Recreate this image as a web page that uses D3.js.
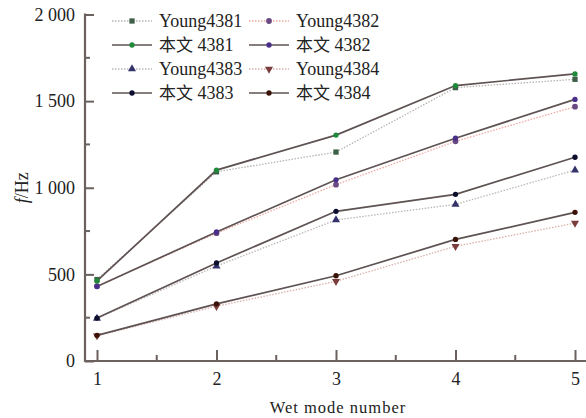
<!DOCTYPE html>
<html>
<head>
<meta charset="utf-8">
<script src="https://cdn.jsdelivr.net/npm/d3@7"></script>
<style>
  body { margin: 0; background: #fff; }
</style>
</head>
<body>
<script>
// mode numbers on the x axis
let modes = [1, 2, 3, 4, 5];
let yTicks = [0, 500, 1000, 1500, 2000];
let yTickLabels = ["0", "500", "1 000", "1 500", "2 000"];

// frequencies (Hz)
let young4381 = [470, 1092, 1206, 1578, 1626];
let paper4381 = [462, 1102, 1304, 1590, 1657];
let young4382 = [432, 738, 1018, 1268, 1468];
let paper4382 = [430, 745, 1046, 1286, 1510];
let young4383 = [246, 548, 814, 904, 1102];
let paper4383 = [248, 566, 864, 962, 1176];
let young4384 = [146, 316, 460, 662, 796];
let paper4384 = [148, 330, 492, 702, 858];

let series = [
  { prefix: "Young", num: "4381", values: young4381, solid: false, line: "#b9b3b3", marker: "square", color: "#3f5f4a" },
  { prefix: "Young", num: "4382", values: young4382, solid: false, line: "#f0a8a0", marker: "circle", color: "#6a4a82" },
  { prefix: "本文", num: "4381", values: paper4381, solid: true, line: "#5e5252", marker: "circle", color: "#1f8a3a" },
  { prefix: "本文", num: "4382", values: paper4382, solid: true, line: "#5e5252", marker: "circle", color: "#4a2f8a" },
  { prefix: "Young", num: "4383", values: young4383, solid: false, line: "#bdb6b6", marker: "triangle", color: "#33336a" },
  { prefix: "Young", num: "4384", values: young4384, solid: false, line: "#d8b0aa", marker: "triangleDown", color: "#7a3c3c" },
  { prefix: "本文", num: "4383", values: paper4383, solid: true, line: "#5e5252", marker: "circle", color: "#0d0d2e" },
  { prefix: "本文", num: "4384", values: paper4384, solid: true, line: "#5e5252", marker: "circle", color: "#3a1208" }
];

let svgWidth = 586, svgHeight = 418;
let axisColor = "#6b615e";
let serif = "'Liberation Serif', 'DejaVu Serif', serif";
let cjk = "'Noto Sans CJK SC', sans-serif";

let svg = d3.select("body").append("svg")
  .attr("width", svgWidth)
  .attr("height", svgHeight);

let x = d3.scaleLinear().domain([1, 5]).range([97, 575]);
let y = d3.scaleLinear().domain([0, 2000]).range([361, 14.5]);
let x0 = 85; // where the y axis sits

// y axis : major + minor ticks pointing inward
let yAxis = svg.append("g").attr("transform", "translate(" + x0 + ",0)")
  .call(d3.axisLeft(y).tickValues(yTicks).tickSize(-9).tickSizeOuter(0)
    .tickFormat((d, i) => yTickLabels[i]).tickPadding(10));
yAxis.attr("font-family", serif).attr("font-size", 18);
yAxis.select(".domain").remove();
yAxis.selectAll("line").attr("stroke", axisColor).attr("stroke-width", 2);
yAxis.selectAll("text").attr("fill", "#222");

svg.append("g").attr("transform", "translate(" + x0 + ",0)")
  .selectAll("line").data([250, 750, 1250, 1750]).enter().append("line")
  .attr("x1", 0).attr("x2", 5).attr("y1", d => y(d)).attr("y2", d => y(d))
  .attr("stroke", axisColor).attr("stroke-width", 2);

// x axis
let xAxis = svg.append("g").attr("transform", "translate(0," + y(0) + ")")
  .call(d3.axisBottom(x).tickValues(modes).tickSize(-11).tickSizeOuter(0)
    .tickFormat(d3.format("d")).tickPadding(11));
xAxis.attr("font-family", serif).attr("font-size", 18);
xAxis.select(".domain").remove();
xAxis.selectAll("line").attr("stroke", axisColor).attr("stroke-width", 2);
xAxis.selectAll("text").attr("fill", "#222");

svg.append("g").selectAll("line").data([1.5, 2.5, 3.5, 4.5]).enter().append("line")
  .attr("x1", d => x(d)).attr("x2", d => x(d)).attr("y1", y(0)).attr("y2", y(0) - 6)
  .attr("stroke", axisColor).attr("stroke-width", 2);

// axis lines
svg.append("line").attr("x1", x0).attr("x2", x0).attr("y1", y(2000) - 1).attr("y2", y(0) + 1)
  .attr("stroke", axisColor).attr("stroke-width", 2.2);
svg.append("line").attr("x1", x0).attr("x2", svgWidth).attr("y1", y(0)).attr("y2", y(0))
  .attr("stroke", axisColor).attr("stroke-width", 2.2);

// axis titles
svg.append("text").attr("x", 338).attr("y", 413).attr("text-anchor", "middle")
  .attr("font-family", serif).attr("fill", "#222")
  .attr("font-size", 16.5).attr("letter-spacing", 1).text("Wet mode number");
let yl = svg.append("text").attr("transform", "translate(28," + y(1000) + ") rotate(-90)")
  .attr("font-family", serif).attr("fill", "#222")
  .attr("text-anchor", "middle").attr("font-size", 18);
yl.append("tspan").attr("font-style", "italic").text("f");
yl.append("tspan").text("/Hz");

// markers
let symbolType = { square: d3.symbolSquare, circle: d3.symbolCircle, triangle: d3.symbolTriangle, triangleDown: d3.symbolTriangle };
function drawMarker(g, s, cx, cy) {
  let size = s.marker === "circle" ? (s.solid ? 22 : 26) : 28;
  g.append("path")
    .attr("d", d3.symbol().type(symbolType[s.marker]).size(size)())
    .attr("transform", "translate(" + cx + "," + cy + ")" + (s.marker === "triangleDown" ? " rotate(180)" : ""))
    .attr("fill", s.color);
}

let line = d3.line().x((d, i) => x(modes[i])).y(d => y(d));

// dotted reference lines first, solid lines on top
let order = series.filter(s => !s.solid).concat(series.filter(s => s.solid));
order.forEach(s => {
  svg.append("path").datum(s.values)
    .attr("d", line)
    .attr("fill", "none")
    .attr("stroke", s.line)
    .attr("stroke-width", s.solid ? 1.7 : 1.3)
    .attr("stroke-dasharray", s.solid ? null : "1.5,1.5");
});
order.forEach(s => {
  let g = svg.append("g");
  s.values.forEach((v, i) => drawMarker(g, s, x(modes[i]), y(v)));
});

// legend
let legend = svg.append("g");
legend.append("rect").attr("x", 108).attr("y", 9).attr("width", 300).attr("height", 95).attr("fill", "#fff");
let colX = [112, 249];
let rowY = [21, 45, 69, 93];
series.forEach((s, i) => {
  let cx = colX[i % 2], cy = rowY[Math.floor(i / 2)];
  legend.append("line").attr("x1", cx).attr("x2", cx + 40).attr("y1", cy).attr("y2", cy)
    .attr("stroke", s.line).attr("stroke-width", s.solid ? 1.7 : 1.3)
    .attr("stroke-dasharray", s.solid ? null : "1.5,1.5");
  drawMarker(legend, s, cx + 20, cy);
  let t = legend.append("text").attr("x", cx + 47).attr("y", cy + 6)
    .attr("font-size", 18).attr("fill", "#222").attr("font-family", serif);
  if (s.prefix === "本文") {
    t.append("tspan").attr("font-family", cjk).attr("font-size", 17).text("本文");
    t.append("tspan").text(" " + s.num);
  } else {
    t.text(s.prefix + s.num);
  }
});
</script>
</body>
</html>
